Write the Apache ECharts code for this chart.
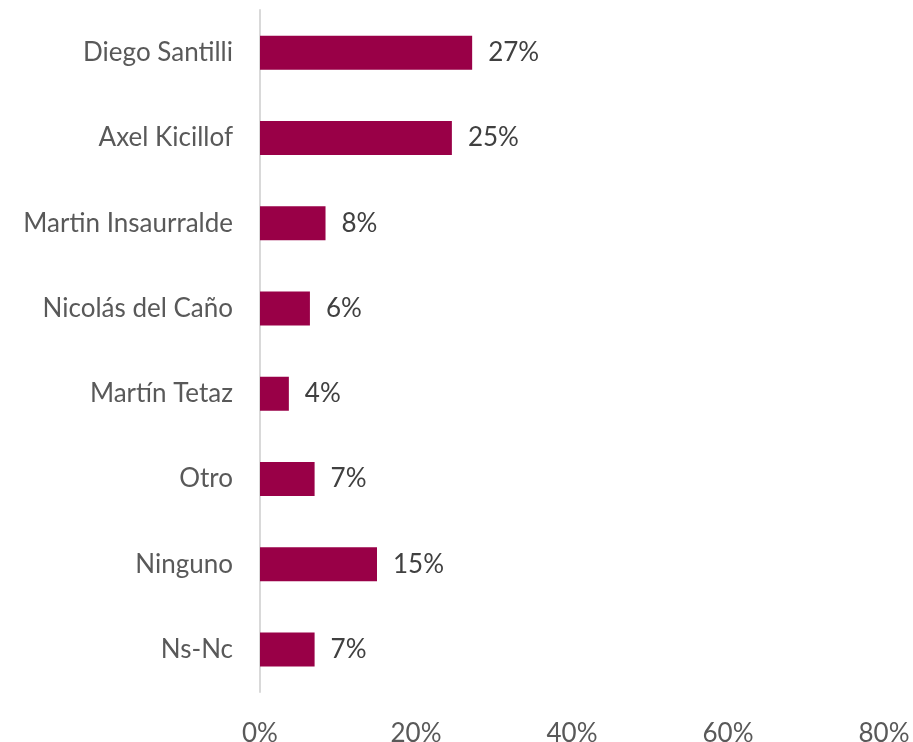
<!DOCTYPE html>
<html>
<head>
<meta charset="utf-8">
<script src="https://cdn.jsdelivr.net/npm/echarts@6/dist/echarts.min.js"></script>
<style>
    html, body { margin: 0; padding: 0; background: #fff; }
    #chart { width: 913px; height: 742px; }
</style>
</head>
<body>
<div id="chart"></div>
<script>
// datos
const candidatos = ['Diego Santilli', 'Axel Kicillof', 'Martin Insaurralde', 'Nicolás del Caño', 'Martín Tetaz', 'Otro', 'Ninguno', 'Ns-Nc'];
const porcentajes = [27.2, 24.6, 8.4, 6.4, 3.7, 7.0, 15.0, 7.0];
const ticksX = [0, 20, 40, 60, 80];

const fuente = 'Lato';
const gris = '#404040';

let myChart = echarts.init(document.getElementById('chart'));
myChart.setOption({
    animation: false,
    grid: { left: 260, right: 29, top: 10, bottom: 50, containLabel: false, outerBoundsMode: 'none' },
    xAxis: {
        type: 'value',
        min: ticksX[0],
        max: ticksX[ticksX.length - 1],
        interval: 20,
        axisLine: { show: false },
        axisTick: { show: false },
        splitLine: { show: false },
        axisLabel: {
            margin: 29,
            fontFamily: fuente,
            fontSize: 26,
            color: '#595959',
            formatter: v => v + '%'
        }
    },
    yAxis: {
        type: 'category',
        inverse: true,
        data: candidatos,
        axisLine: { show: true, lineStyle: { color: '#d9d9d9', width: 2 } },
        axisTick: { show: false },
        axisLabel: {
            margin: 27,
            fontFamily: fuente,
            fontSize: 26,
            color: '#595959'
        }
    },
    series: [
        {
            type: 'bar',
            data: porcentajes,
            barWidth: 34,
            itemStyle: { color: '#990047' },
            label: {
                show: true,
                position: 'right',
                distance: 16,
                fontFamily: fuente,
                fontSize: 26,
                color: gris,
                formatter: p => Math.round(p.value) + '%'
            }
        }
    ]
});
</script>
</body>
</html>
